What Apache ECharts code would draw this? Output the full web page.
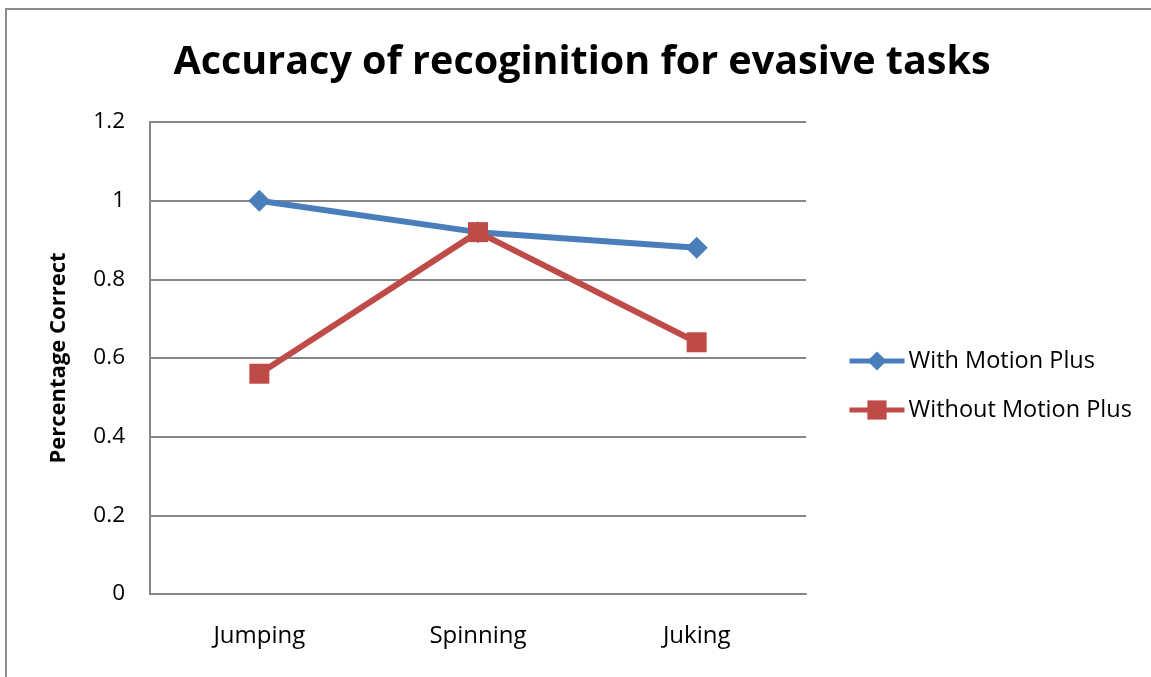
<!DOCTYPE html>
<html>
<head>
  <meta charset="utf-8"/>
  <title>Accuracy of recoginition for evasive tasks</title>
  <script src="https://cdn.jsdelivr.net/npm/echarts@6/dist/echarts.min.js"></script>
  <style>
    html, body { margin: 0; padding: 0; background: #fff; }
    #main { width: 1151px; height: 677px; }
  </style>
</head>
<body>
<div id="main"></div>
<script>
var categories = ['Jumping', 'Spinning', 'Juking'];
var withMotionPlus = [1.0, 0.92, 0.88];
var withoutMotionPlus = [0.56, 0.92, 0.64];

var font = 'Open Sans';
var chart = echarts.init(document.getElementById('main'));

chart.setOption({
  animation: false,
  backgroundColor: '#fff',
  title: {
    text: 'Accuracy of recoginition for evasive tasks',
    left: 577,
    textAlign: 'center',
    top: 38,
    textStyle: { fontFamily: font, fontWeight: 'bold', fontSize: 39.5, color: '#000' }
  },
  graphic: [{
    type: 'rect',
    shape: { x: 6, y: 9, width: 1200, height: 700 },
    style: { fill: 'none', stroke: '#8c8c8c', lineWidth: 2 },
    silent: true
  }],
  legend: {
    orient: 'vertical',
    left: 847,
    top: 349,
    padding: 0,
    itemWidth: 55,
    itemHeight: 24,
    itemGap: 25,
    lineStyle: { width: 5 },
    textStyle: { fontFamily: font, fontSize: 23.5, color: '#000', padding: [0, 0, 0, -1] },
    data: ['With Motion Plus', 'Without Motion Plus']
  },
  grid: { left: 150, right: 345, top: 122, bottom: 83 },
  xAxis: {
    type: 'category',
    data: categories,
    axisLine: { lineStyle: { color: '#868686', width: 2 } },
    axisTick: { show: false },
    axisLabel: { fontFamily: font, fontSize: 24, color: '#000', margin: 30 }
  },
  yAxis: {
    type: 'value',
    min: 0,
    max: 1.2,
    interval: 0.2,
    name: 'Percentage Correct',
    nameLocation: 'middle',
    nameGap: 80,
    nameTextStyle: { fontFamily: font, fontWeight: 'bold', fontSize: 22, color: '#000' },
    axisLine: { show: true, lineStyle: { color: '#868686', width: 2 } },
    axisTick: { show: false },
    splitLine: { lineStyle: { color: '#868686', width: 2 } },
    axisLabel: {
      fontFamily: font, fontSize: 22.5, color: '#000', margin: 25,
      formatter: function (v) { return String(Math.round(v * 10) / 10); }
    }
  },
  series: [{
    name: 'With Motion Plus',
    type: 'line',
    data: withMotionPlus,
    symbol: 'diamond',
    symbolSize: 22,
    color: '#4a7ebb',
    lineStyle: { width: 6, color: '#4a7ebb' },
    itemStyle: { color: '#4a7ebb' }
  }, {
    name: 'Without Motion Plus',
    type: 'line',
    data: withoutMotionPlus,
    symbol: 'rect',
    symbolSize: 20,
    color: '#be4b48',
    lineStyle: { width: 6, color: '#be4b48' },
    itemStyle: { color: '#be4b48' }
  }]
});
</script>
</body>
</html>
